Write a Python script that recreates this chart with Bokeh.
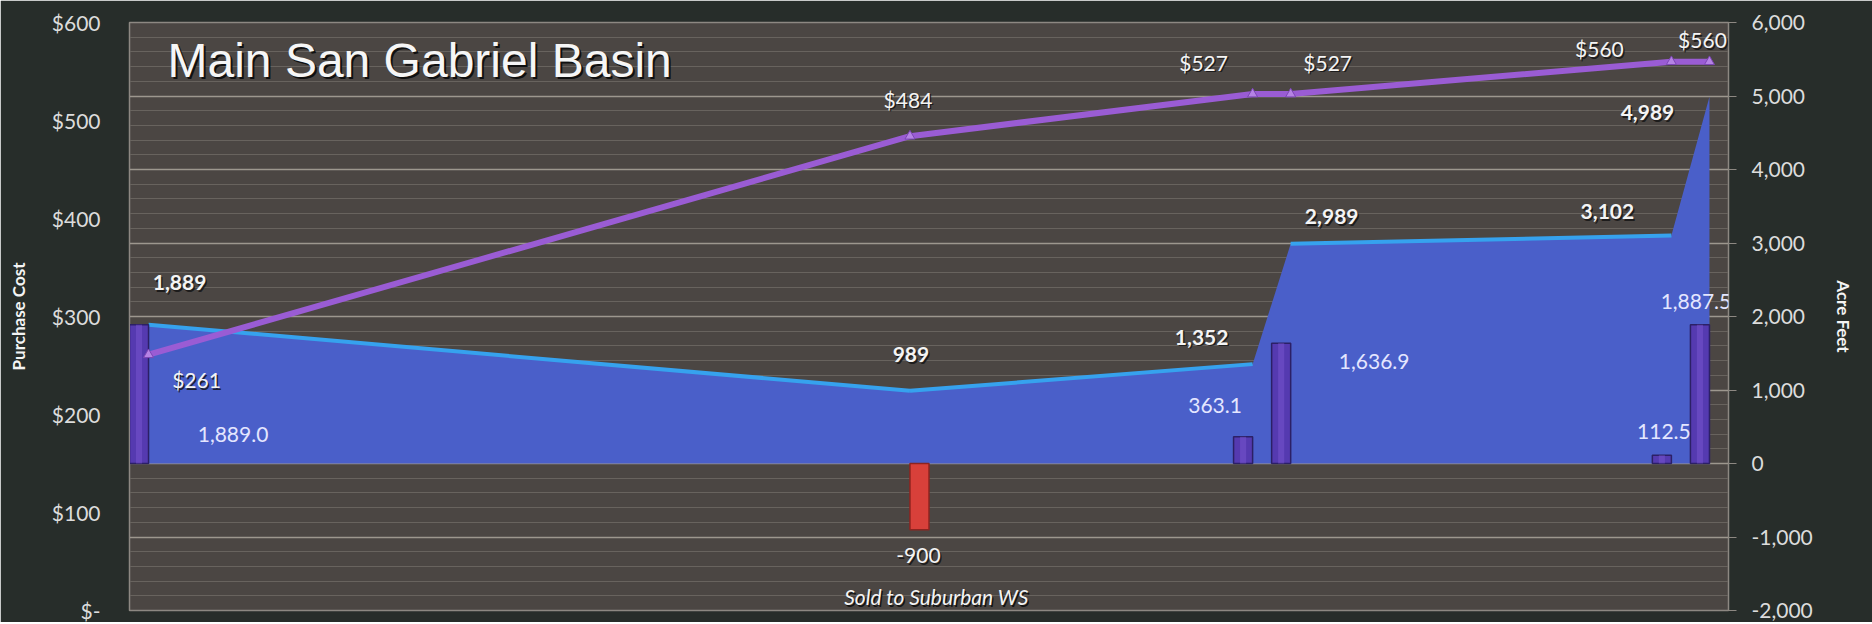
from bokeh.plotting import figure
from bokeh.models import (Range1d, LinearAxis, FixedTicker, ColumnDataSource,
                          LabelSet, Label)
from bokeh.core.properties import value
from bokeh.transform import dodge
from bokeh.embed import file_html
from bokeh.resources import INLINE

# ---------------- data ----------------
period_month = [0, 20, 29, 30, 40, 41]
purchase_cost = [261, 484, 527, 527, 560, 560]
cost_labels = ["$261", "$484", "$527", "$527", "$560", "$560"]
acre_feet_balance = [1889, 989, 1352, 2989, 3102, 4989]
balance_labels = ["1,889", "989", "1,352", "2,989", "3,102", "4,989"]

purchase_month = [0, 29, 30, 40, 41]
purchased_af = [1889.0, 363.1, 1636.9, 112.5, 1887.5]
purchased_labels = ["1,889.0", "363.1", "1,636.9", "112.5", "1,887.5"]

sale_month = [20]
sold_af = [-900]
sold_labels = ["-900"]
sale_category = "Sold  to Suburban WS"

cost_ticks = [0, 100, 200, 300, 400, 500, 600]
cost_tick_labels = ["$-", "$100", "$200", "$300", "$400", "$500", "$600"]
af_ticks = [-2000, -1000, 0, 1000, 2000, 3000, 4000, 5000, 6000]
af_tick_labels = ["-2,000", "-1,000", "0", "1,000", "2,000", "3,000", "4,000", "5,000", "6,000"]

chart_title = "Main San Gabriel Basin"
left_title = "Purchase Cost"
right_title = "Acre Feet"

# ---------------- label placement (screen px, style only) ----------------
cost_dx = [48, -2, -49, 37, -72, -7]
cost_dy = [-25, 37, 32, 32, 13, 22]
bal_dx = [31, 1, -51, 41, -64, -62]
bal_dy = [42, 36, 27, 27, 24, -16]
pur_dx = [94, -28, 93, 2, -4]
pur_dy = [-110, 31, -18, 24, 23]
sold_dx = [-1]
sold_dy = [-26]

FONT = "Lato"
BG = "#272d2a"
PLOT_BG = "#4b4643"

p = figure(width=1872, height=622, output_backend="svg", toolbar_location=None,
           x_range=Range1d(-0.5, 41.5), y_range=Range1d(cost_ticks[0], cost_ticks[-1]),
           x_axis_location=None, min_border_left=129, min_border_right=144,
           min_border_top=22, min_border_bottom=12)
p.background_fill_color = PLOT_BG
p.border_fill_color = BG
p.outline_line_color = "#8d8882"
p.outline_line_width = 1.5

p.extra_y_ranges = {"af": Range1d(af_ticks[0], af_ticks[-1])}

# grid (follows acre-feet scale: major each 1000, minor each 200)
def af_to_cost(v):
    return (v - af_ticks[0]) * (cost_ticks[-1] - cost_ticks[0]) / (af_ticks[-1] - af_ticks[0]) + cost_ticks[0]

minor_af = list(range(af_ticks[0], af_ticks[-1] + 1, 200))
p.xgrid.visible = False
p.ygrid.ticker = FixedTicker(ticks=[af_to_cost(v) for v in af_ticks],
                             minor_ticks=[af_to_cost(v) for v in minor_af])
p.ygrid.grid_line_color = "#9d978e"
p.ygrid.grid_line_width = 1.4
p.ygrid.minor_grid_line_color = "#68635e"
p.ygrid.minor_grid_line_width = 1

# left axis
la = p.yaxis[0]
la.ticker = FixedTicker(ticks=cost_ticks)
la.major_label_overrides = {t: l for t, l in zip(cost_ticks, cost_tick_labels)}
la.axis_label = left_title
la.axis_label_text_font = FONT
la.axis_label_text_font_style = "bold"
la.axis_label_text_font_size = "17px"
la.axis_label_text_color = "#f4f4f4"
la.axis_label_standoff = 20
la.major_label_text_font = FONT
la.major_label_text_font_size = "21px"
la.major_label_text_color = "#dcdcdc"
la.major_label_standoff = 29
la.major_tick_out = 0
la.major_tick_in = 0
la.minor_tick_out = 0
la.minor_tick_in = 0
la.axis_line_color = "#8d8882"

# right axis
ra = LinearAxis(y_range_name="af", ticker=FixedTicker(ticks=af_ticks))
ra.major_label_overrides = {t: l for t, l in zip(af_ticks, af_tick_labels)}
ra.axis_label = right_title
ra.axis_label_text_font = FONT
ra.axis_label_text_font_style = "bold"
ra.axis_label_text_font_size = "17px"
ra.axis_label_text_color = "#f4f4f4"
ra.axis_label_standoff = 17
ra.major_label_text_font = FONT
ra.major_label_text_font_size = "21px"
ra.major_label_text_color = "#dcdcdc"
ra.major_label_standoff = 15
ra.major_tick_out = 8
ra.major_tick_in = 0
ra.minor_tick_out = 0
ra.minor_tick_in = 0
ra.major_tick_line_color = "#8d8882"
ra.axis_line_color = "#8d8882"
p.add_layout(ra, "right")

# ---------------- area (cumulative acre feet) ----------------
area_src = ColumnDataSource(dict(x=period_month, y=acre_feet_balance,
                                 base=[0] * len(period_month)))
p.varea(x="x", y1="base", y2="y", source=area_src, y_range_name="af",
        fill_color="#4a5fc9", fill_alpha=1.0)

# light top edge on the gently sloped segments
seg_x0, seg_x1, seg_y0, seg_y1, seg_a = [], [], [], [], []
for i in range(len(period_month) - 1):
    dx = period_month[i + 1] - period_month[i]
    dy = acre_feet_balance[i + 1] - acre_feet_balance[i]
    seg_x0.append(period_month[i]); seg_x1.append(period_month[i + 1])
    seg_y0.append(acre_feet_balance[i]); seg_y1.append(acre_feet_balance[i + 1])
    seg_a.append(1.0 if abs(dy) / dx < 500 else 0.0)
p.segment(x0="x0", y0="y0", x1="x1", y1="y1", line_alpha="a",
          source=ColumnDataSource(dict(x0=seg_x0, x1=seg_x1, y0=seg_y0, y1=seg_y1, a=seg_a)),
          y_range_name="af", line_color="#36a2ee", line_width=4)

# ---------------- bars ----------------
pur_src = ColumnDataSource(dict(x=purchase_month, top=purchased_af))
p.vbar(x=dodge("x", -0.25, range=p.x_range), top="top", bottom=0, width=0.5,
       source=pur_src, y_range_name="af",
       fill_color="#553ab0", line_color="#2c2066", line_width=1.5)
p.vbar(x=dodge("x", -0.25, range=p.x_range), top="top", bottom=0, width=0.16,
       source=pur_src, y_range_name="af",
       fill_color="#7a55d0", fill_alpha=0.5, line_alpha=0)

sold_src = ColumnDataSource(dict(x=sale_month, top=sold_af))
p.vbar(x=dodge("x", 0.25, range=p.x_range), top="top", bottom=0, width=0.5,
       source=sold_src, y_range_name="af",
       fill_color="#d8403a", line_color="#8c2420", line_width=1.5)

# ---------------- purchase cost line ----------------
cost_src = ColumnDataSource(dict(x=period_month, y=purchase_cost))
p.line(x="x", y="y", source=cost_src, line_color="#9a5cd4", line_width=6)
p.scatter(x="x", y="y", source=cost_src, marker="triangle", size=10,
          fill_color="#b583e4", line_color="#7c45b5")

# ---------------- labels ----------------
def labels(xs, ys, texts, dxs, dys, yname, color, style, shadow=True):
    src = ColumnDataSource(dict(x=xs, y=ys, lab=texts, dx=dxs, dy=dys,
                                sdx=[d + 1.5 for d in dxs], sdy=[d - 1.5 for d in dys]))
    common = dict(x="x", y="y", text="lab", source=src,
                  text_font=value(FONT), text_font_size=value("21px"),
                  text_font_style=value(style),
                  text_align=value("center"), text_baseline=value("middle"))
    if yname:
        common["y_range_name"] = yname
    if shadow:
        p.add_layout(LabelSet(x_offset="sdx", y_offset="sdy", text_color=value("#151515"),
                              text_alpha=0.85, **common))
    p.add_layout(LabelSet(x_offset="dx", y_offset="dy", text_color=value(color), **common))

labels(period_month, purchase_cost, cost_labels, cost_dx, cost_dy, None, "#f4f4f4", "normal")
labels(period_month, acre_feet_balance, balance_labels, bal_dx, bal_dy, "af", "#f4f4f4", "bold")
labels([m - 0.25 for m in purchase_month], purchased_af, purchased_labels, pur_dx, pur_dy,
       "af", "#e4e6ff", "normal", shadow=False)
labels([m + 0.25 for m in sale_month], sold_af, sold_labels, sold_dx, sold_dy,
       "af", "#f4f4f4", "normal")

# category label for the sale
for c, off in (("#141414", 1.5), ("#f4f4f4", 0)):
    p.add_layout(Label(x=sale_month[0], y=af_ticks[0], y_range_name="af",
                       x_offset=29 + off, y_offset=14 - off, text=sale_category,
                       text_font=FONT, text_font_style="italic", text_font_size="21px",
                       text_color=c, text_align="center", text_baseline="middle"))

# chart title inside plot area
for c, off in (("#101010", 2), ("#f6f6f6", 0)):
    p.add_layout(Label(x=-0.5, y=cost_ticks[-1], x_offset=38 + off, y_offset=-38 - off,
                       text=chart_title, text_font="Liberation Sans",
                       text_font_size="48px", text_color=c,
                       text_align="left", text_baseline="middle"))

open("out.html", "w").write(file_html(p, INLINE))
